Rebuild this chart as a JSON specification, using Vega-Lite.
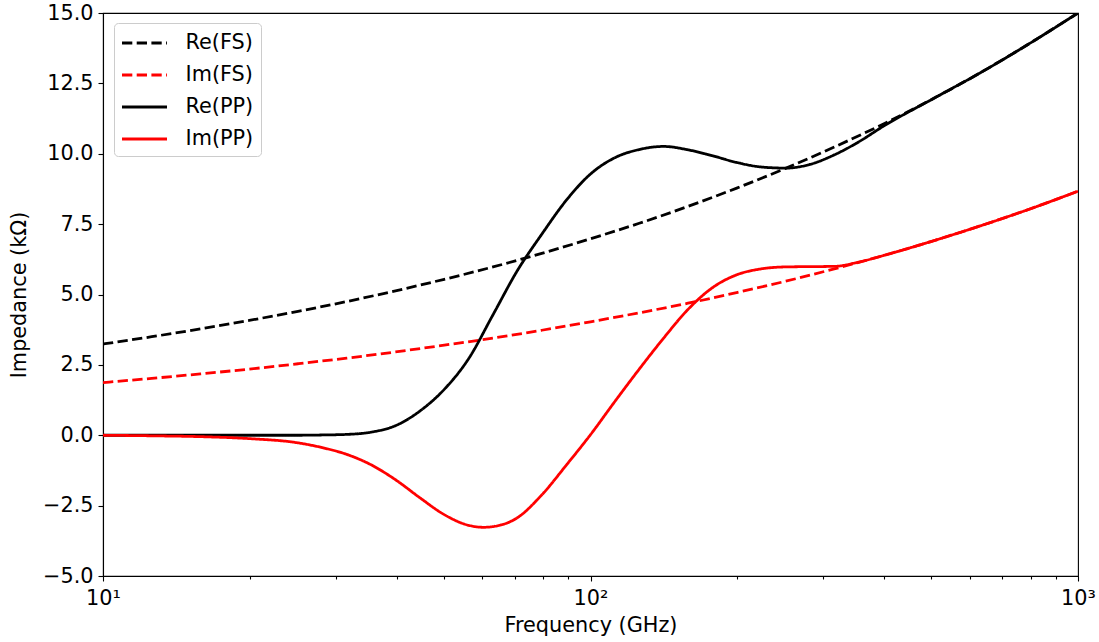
{
  "$schema": "https://vega.github.io/schema/vega-lite/v6.json",
  "width": 975,
  "height": 563,
  "autosize": {"type": "none"},
  "padding": {"left": 103, "top": 13, "right": 21, "bottom": 66},
  "background": "white",
  "config": {
    "font": "DejaVu Sans",
    "view": {"stroke": "black", "strokeWidth": 1.1},
    "axis": {
      "domainColor": "black", "domainWidth": 1.1,
      "tickColor": "black", "tickWidth": 1.1,
      "labelColor": "black", "titleColor": "black",
      "labelFont": "DejaVu Sans", "titleFont": "DejaVu Sans",
      "labelFontSize": 20.8, "titleFontSize": 20.8,
      "titleFontWeight": "normal", "grid": false
    }
  },
  "data": {
    "values": [
      {"s": "Re(FS)", "f": 10, "v": 3.24},
      {"s": "Re(FS)", "f": 12.589, "v": 3.50},
      {"s": "Re(FS)", "f": 15.849, "v": 3.78},
      {"s": "Re(FS)", "f": 19.953, "v": 4.08},
      {"s": "Re(FS)", "f": 25.119, "v": 4.40},
      {"s": "Re(FS)", "f": 31.623, "v": 4.75},
      {"s": "Re(FS)", "f": 39.811, "v": 5.13},
      {"s": "Re(FS)", "f": 50.119, "v": 5.54},
      {"s": "Re(FS)", "f": 63.096, "v": 5.98},
      {"s": "Re(FS)", "f": 79.433, "v": 6.46},
      {"s": "Re(FS)", "f": 100, "v": 6.98},
      {"s": "Re(FS)", "f": 125.89, "v": 7.53},
      {"s": "Re(FS)", "f": 158.49, "v": 8.13},
      {"s": "Re(FS)", "f": 199.53, "v": 8.78},
      {"s": "Re(FS)", "f": 251.19, "v": 9.48},
      {"s": "Re(FS)", "f": 316.23, "v": 10.24},
      {"s": "Re(FS)", "f": 398.11, "v": 11.05},
      {"s": "Re(FS)", "f": 501.19, "v": 11.93},
      {"s": "Re(FS)", "f": 630.96, "v": 12.88},
      {"s": "Re(FS)", "f": 794.33, "v": 13.91},
      {"s": "Re(FS)", "f": 1000, "v": 15.0},
      {"s": "Im(FS)", "f": 10, "v": 1.87},
      {"s": "Im(FS)", "f": 12.589, "v": 2.02},
      {"s": "Im(FS)", "f": 15.849, "v": 2.18},
      {"s": "Im(FS)", "f": 19.953, "v": 2.35},
      {"s": "Im(FS)", "f": 25.119, "v": 2.54},
      {"s": "Im(FS)", "f": 31.623, "v": 2.74},
      {"s": "Im(FS)", "f": 39.811, "v": 2.96},
      {"s": "Im(FS)", "f": 50.119, "v": 3.20},
      {"s": "Im(FS)", "f": 63.096, "v": 3.45},
      {"s": "Im(FS)", "f": 79.433, "v": 3.73},
      {"s": "Im(FS)", "f": 100, "v": 4.03},
      {"s": "Im(FS)", "f": 125.89, "v": 4.35},
      {"s": "Im(FS)", "f": 158.49, "v": 4.69},
      {"s": "Im(FS)", "f": 199.53, "v": 5.07},
      {"s": "Im(FS)", "f": 251.19, "v": 5.47},
      {"s": "Im(FS)", "f": 316.23, "v": 5.91},
      {"s": "Im(FS)", "f": 398.11, "v": 6.38},
      {"s": "Im(FS)", "f": 501.19, "v": 6.89},
      {"s": "Im(FS)", "f": 630.96, "v": 7.44},
      {"s": "Im(FS)", "f": 794.33, "v": 8.03},
      {"s": "Im(FS)", "f": 1000, "v": 8.67},
      {"s": "Re(PP)", "f": 10, "v": 0.0},
      {"s": "Re(PP)", "f": 12.589, "v": 0.0},
      {"s": "Re(PP)", "f": 15.849, "v": 0.0},
      {"s": "Re(PP)", "f": 19.953, "v": 0.0},
      {"s": "Re(PP)", "f": 25.119, "v": 0.0},
      {"s": "Re(PP)", "f": 28.184, "v": 0.01},
      {"s": "Re(PP)", "f": 31.623, "v": 0.03},
      {"s": "Re(PP)", "f": 35.481, "v": 0.11},
      {"s": "Re(PP)", "f": 39.811, "v": 0.34},
      {"s": "Re(PP)", "f": 44.668, "v": 0.86},
      {"s": "Re(PP)", "f": 50.119, "v": 1.63},
      {"s": "Re(PP)", "f": 56.234, "v": 2.72},
      {"s": "Re(PP)", "f": 63.096, "v": 4.28},
      {"s": "Re(PP)", "f": 70.795, "v": 5.85},
      {"s": "Re(PP)", "f": 79.433, "v": 7.14},
      {"s": "Re(PP)", "f": 89.125, "v": 8.34},
      {"s": "Re(PP)", "f": 100, "v": 9.28},
      {"s": "Re(PP)", "f": 112.2, "v": 9.86},
      {"s": "Re(PP)", "f": 125.89, "v": 10.15},
      {"s": "Re(PP)", "f": 141.25, "v": 10.26},
      {"s": "Re(PP)", "f": 158.49, "v": 10.14},
      {"s": "Re(PP)", "f": 177.83, "v": 9.93},
      {"s": "Re(PP)", "f": 199.53, "v": 9.69},
      {"s": "Re(PP)", "f": 223.87, "v": 9.53},
      {"s": "Re(PP)", "f": 251.19, "v": 9.49},
      {"s": "Re(PP)", "f": 281.84, "v": 9.62},
      {"s": "Re(PP)", "f": 316.23, "v": 9.96},
      {"s": "Re(PP)", "f": 354.81, "v": 10.42},
      {"s": "Re(PP)", "f": 398.11, "v": 10.97},
      {"s": "Re(PP)", "f": 501.19, "v": 11.93},
      {"s": "Re(PP)", "f": 630.96, "v": 12.88},
      {"s": "Re(PP)", "f": 794.33, "v": 13.91},
      {"s": "Re(PP)", "f": 1000, "v": 15.0},
      {"s": "Im(PP)", "f": 10, "v": 0.0},
      {"s": "Im(PP)", "f": 12.589, "v": -0.02},
      {"s": "Im(PP)", "f": 15.849, "v": -0.05},
      {"s": "Im(PP)", "f": 19.953, "v": -0.12},
      {"s": "Im(PP)", "f": 25.119, "v": -0.27},
      {"s": "Im(PP)", "f": 28.184, "v": -0.44},
      {"s": "Im(PP)", "f": 31.623, "v": -0.68},
      {"s": "Im(PP)", "f": 35.481, "v": -1.05},
      {"s": "Im(PP)", "f": 39.811, "v": -1.58},
      {"s": "Im(PP)", "f": 44.668, "v": -2.22},
      {"s": "Im(PP)", "f": 50.119, "v": -2.82},
      {"s": "Im(PP)", "f": 56.234, "v": -3.20},
      {"s": "Im(PP)", "f": 60.256, "v": -3.27},
      {"s": "Im(PP)", "f": 63.096, "v": -3.245},
      {"s": "Im(PP)", "f": 70.795, "v": -2.93},
      {"s": "Im(PP)", "f": 79.433, "v": -2.12},
      {"s": "Im(PP)", "f": 89.125, "v": -1.07},
      {"s": "Im(PP)", "f": 100, "v": 0.02},
      {"s": "Im(PP)", "f": 112.2, "v": 1.20},
      {"s": "Im(PP)", "f": 125.89, "v": 2.35},
      {"s": "Im(PP)", "f": 141.25, "v": 3.45},
      {"s": "Im(PP)", "f": 158.49, "v": 4.47},
      {"s": "Im(PP)", "f": 177.83, "v": 5.24},
      {"s": "Im(PP)", "f": 199.53, "v": 5.70},
      {"s": "Im(PP)", "f": 223.87, "v": 5.91},
      {"s": "Im(PP)", "f": 251.19, "v": 5.98},
      {"s": "Im(PP)", "f": 281.84, "v": 5.99},
      {"s": "Im(PP)", "f": 316.23, "v": 6.0},
      {"s": "Im(PP)", "f": 354.81, "v": 6.15},
      {"s": "Im(PP)", "f": 398.11, "v": 6.38},
      {"s": "Im(PP)", "f": 501.19, "v": 6.89},
      {"s": "Im(PP)", "f": 630.96, "v": 7.44},
      {"s": "Im(PP)", "f": 794.33, "v": 8.03},
      {"s": "Im(PP)", "f": 1000, "v": 8.67}
    ]
  },
  "mark": {"type": "line", "interpolate": "monotone", "strokeWidth": 2.78, "clip": true},
  "encoding": {
    "x": {
      "field": "f", "type": "quantitative",
      "scale": {"type": "log", "domain": [10, 1000], "nice": false},
      "axis": {
        "title": "Frequency (GHz)",
        "values": [10, 20, 30, 40, 50, 60, 70, 80, 90, 100, 200, 300, 400, 500, 600, 700, 800, 900, 1000],
        "labelExpr": "datum.value == 10 ? '10¹' : datum.value == 100 ? '10²' : datum.value == 1000 ? '10³' : ''",
        "tickSize": {"condition": {"test": "datum.value == 10 || datum.value == 100 || datum.value == 1000", "value": 5}, "value": 3},
        "labelPadding": 7,
        "titlePadding": 8,
        "labelFlush": false,
        "labelOverlap": false
      }
    },
    "y": {
      "field": "v", "type": "quantitative",
      "scale": {"domain": [-5, 15], "nice": false, "zero": false},
      "axis": {
        "title": "Impedance (kΩ)",
        "values": [-5, -2.5, 0, 2.5, 5, 7.5, 10, 12.5, 15],
        "labelExpr": "replace(format(datum.value, '.1f'), '-', '−')",
        "tickSize": 5,
        "labelPadding": 5,
        "titlePadding": 13
      }
    },
    "color": {
      "field": "s", "type": "nominal",
      "scale": {"domain": ["Re(FS)", "Im(FS)", "Re(PP)", "Im(PP)"], "range": ["#000000", "#ff0000", "#000000", "#ff0000"]},
      "legend": {
        "title": null, "orient": "none", "legendX": 11, "legendY": 10,
        "symbolType": "M-1.043,0H2.870", "symbolSize": 529, "symbolStrokeWidth": 2.78,
        "labelFontSize": 20.8, "labelFont": "DejaVu Sans", "labelColor": "black", "labelOffset": 38.5,
        "rowPadding": 9, "padding": 7, "labelLimit": 0,
        "fillColor": "white", "strokeColor": "#cccccc", "cornerRadius": 4
      }
    },
    "strokeDash": {
      "field": "s", "type": "nominal",
      "scale": {"domain": ["Re(FS)", "Im(FS)", "Re(PP)", "Im(PP)"], "range": [[10.3, 4.4], [10.3, 4.4], [1, 0], [1, 0]]},
      "legend": {
        "title": null, "orient": "none", "legendX": 11, "legendY": 10,
        "symbolType": "M-1.043,0H2.870", "symbolSize": 529, "symbolStrokeWidth": 2.78,
        "labelFontSize": 20.8, "labelFont": "DejaVu Sans", "labelColor": "black", "labelOffset": 38.5,
        "rowPadding": 9, "padding": 7, "labelLimit": 0,
        "fillColor": "white", "strokeColor": "#cccccc", "cornerRadius": 4
      }
    }
  }
}
